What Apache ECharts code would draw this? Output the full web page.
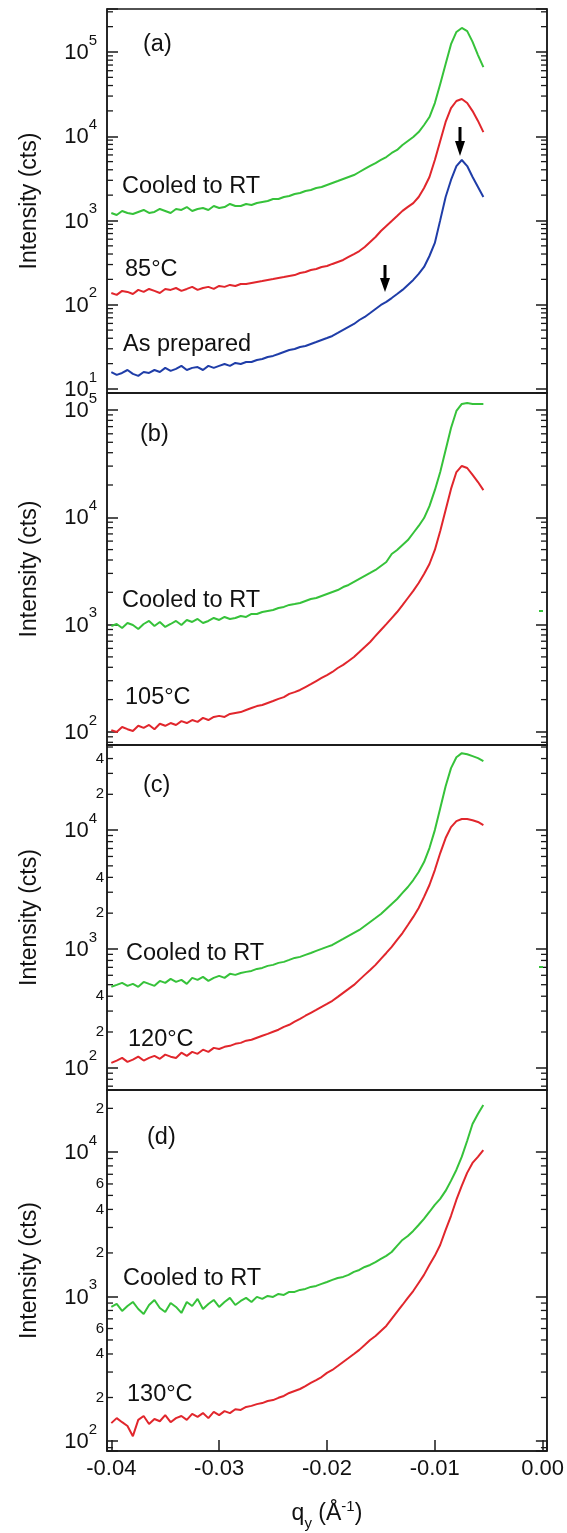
<!DOCTYPE html>
<html><head><meta charset="utf-8">
<script src="https://cdn.jsdelivr.net/npm/echarts@6/dist/echarts.min.js"></script>
<style>html,body{margin:0;padding:0;background:#fff;}#c{width:567px;height:1533px;}</style>
</head><body><div id="c"></div>
<script>
// q_y grid (Å^-1)
const qGrid = [-0.0400,-0.0395,-0.0390,-0.0385,-0.0380,-0.0375,-0.0370,-0.0365,-0.0360,-0.0355,-0.0350,-0.0345,-0.0340,-0.0335,-0.0330,-0.0325,-0.0320,-0.0315,-0.0310,-0.0305,
 -0.0300,-0.0295,-0.0290,-0.0285,-0.0280,-0.0275,-0.0270,-0.0265,-0.0260,-0.0255,-0.0250,-0.0245,-0.0240,-0.0235,-0.0230,-0.0225,-0.0220,-0.0215,-0.0210,-0.0205,
 -0.0200,-0.0195,-0.0190,-0.0185,-0.0180,-0.0175,-0.0170,-0.0165,-0.0160,
 -0.0155,-0.0150,-0.0145,-0.0140,-0.0135,-0.0130,-0.0125,-0.0120,-0.0115,-0.0110,-0.0105,-0.0100,-0.0095,-0.0090,-0.0085,-0.0080,-0.0075,-0.0070,-0.0065,-0.0060,-0.0055];

// Panel (a)
const aCooled = [1228,1162,1297,1228,1194,1262,1333,1228,1262,1370,1297,1228,1370,1333,1446,1297,1370,1406,1333,1486,
 1406,1446,1570,1486,1486,1570,1528,1614,1660,1706,1800,1800,1901,1954,2065,2120,2240,2303,2432,2501,
 2641,2789,2945,3110,3284,3467,3764,4087,4436,
 4810,5230,5670,6330,6870,7880,8790,9790,11200,13600,16900,24800,41700,72000,124000,173000,193000,177000,132000,92000,66000];
const a85 = [138,131,146,142,134,150,142,154,146,138,154,150,158,146,154,163,150,158,163,154,
 167,163,172,167,176,176,181,186,191,197,202,208,213,219,225,238,245,258,266,281,
 288,305,322,340,369,400,434,485,556,
 637,750,861,986,1130,1300,1450,1610,1900,2430,3280,5230,8790,14800,21600,26200,27700,24800,19900,15200,11200];
const aPrepared = [15.9,14.7,15.5,16.8,15.1,14.3,15.9,15.5,16.8,15.9,17.8,16.4,17.3,18.8,16.8,17.8,18.2,16.8,18.8,17.8,
 18.8,19.8,18.8,20.4,19.8,20.9,20.9,22.1,22.7,24.0,24.7,26.0,27.5,29.0,29.8,31.5,32.4,34.2,36.1,38.2,
 40.3,42.6,46.2,50.2,54.5,59.1,65.9,71.6,79.8,
 89.1,99.4,108,120,134,150,172,197,232,281,379,541,1010,1900,3030,4430,5230,4430,3280,2500,1900];
// Panel (b)
const bCooled = [971,1013,930,1035,992,910,1013,1081,971,1058,950,1013,1081,992,1104,1058,1128,1035,1081,1153,
 1104,1178,1128,1153,1203,1178,1256,1256,1311,1340,1369,1429,1461,1525,1557,1591,1661,1733,1771,1848,
 1928,2012,2100,2240,2340,2495,2661,2838,3027,
 3230,3520,3830,4550,4960,5520,6140,7140,8300,9840,12700,17900,26400,42400,67900,98000,114000,116000,114000,114000,114000];
const b105 = [104,99.8,111,106,102,114,109,116,106,119,114,121,116,126,121,129,124,135,129,138,
 141,138,147,150,153,160,167,174,178,186,194,203,211,226,235,246,262,279,298,318,
 339,362,394,421,458,499,555,618,689,
 784,891,1010,1150,1310,1520,1770,2060,2440,2960,3670,4960,7450,11700,18400,26400,30100,28800,24800,21300,17900];
// Panel (c)
const cCooled = [480,498,518,489,508,480,528,508,489,538,518,560,528,549,508,571,549,582,538,571,
 593,571,617,605,628,641,653,679,692,720,734,763,778,808,840,857,891,925,962,1000,
 1040,1080,1145,1213,1286,1363,1445,1561,1687,
 1820,1970,2170,2390,2630,2960,3320,3800,4440,5380,7060,10000,15300,23400,33200,41000,44400,43500,41900,40300,38000];
const c120 = [110,115,121,112,117,124,115,121,126,119,129,124,121,134,126,136,131,142,136,147,
 144,150,153,159,162,169,172,179,186,193,201,209,221,230,244,258,274,290,307,326,
 345,366,395,427,461,498,549,605,666,
 734,825,925,1040,1190,1360,1590,1860,2210,2740,3450,4610,6410,8570,10600,11900,12400,12400,12100,11700,11000];
// Panel (d)
const dCooled = [846,887,794,859,916,819,757,873,946,832,781,902,846,769,916,859,962,819,887,946,
 846,916,977,873,931,977,916,993,962,1008,993,1041,1025,1075,1075,1110,1128,1164,1183,1221,
 1260,1301,1343,1365,1409,1478,1525,1600,1652,
 1730,1820,1910,2030,2240,2460,2620,2840,3120,3440,3840,4300,4730,5370,6300,7500,9230,11900,15600,18300,21100];
const d130 = [133,144,135,127,108,140,149,131,142,137,151,135,144,149,140,154,147,156,144,159,
 151,161,156,166,164,172,175,180,183,189,192,199,205,215,222,229,240,252,264,277,
 296,310,330,352,375,400,427,462,500,
 533,577,625,699,781,873,977,1090,1240,1410,1650,1910,2270,2880,3600,4650,5820,7160,8390,9230,10300];

// axis ranges
const xRange = [-0.0404, 0.0004];
const yRanges = [[8.96, 3.24e5], [75.5, 1.44e5], [65, 5.2e4], [85.3, 2.68e4]];
// labelled minor ticks (value, label)
const cMinorLabels = [[200,'2'],[400,'4'],[2000,'2'],[4000,'4'],[20000,'2'],[40000,'4']];
const dMinorLabels = [[200,'2'],[400,'4'],[600,'6'],[2000,'2'],[4000,'4'],[6000,'6'],[20000,'2']];
const panelLetters = ['(a)','(b)','(c)','(d)'];

const GREEN = '#36c23a', RED = '#e1262c', BLUE = '#1f3da8', AX = '#1a1a1a', TXT = '#111';
const FF = '"Liberation Sans", Arial, sans-serif';

const grids = [{top:9,height:384},{top:393,height:352},{top:745,height:345},{top:1090,height:361}];
const panelSeries = [
  [[aCooled,GREEN],[a85,RED],[aPrepared,BLUE]],
  [[bCooled,GREEN],[b105,RED]],
  [[cCooled,GREEN],[c120,RED]],
  [[dCooled,GREEN],[d130,RED]]
];
const minorLabelSets = [[],[],cMinorLabels,dMinorLabels];

function minorTicks(lo, hi){
  const out = [];
  for (let e = -1; e <= 6; e++) for (let m = 2; m <= 9; m++) {
    const v = m * Math.pow(10, e);
    if (v > lo * 1.001 && v < hi * 0.999) out.push(v);
  }
  return out;
}

const option = {animation:false, backgroundColor:'#fff', grid:[], xAxis:[], yAxis:[], series:[], graphic:[]};
const yLabelFmt = v => { const l = Math.log10(v), n = Math.round(l); return Math.abs(l-n) > 0.01 ? '' : '{b|10}{s|' + n + '}'; };
const yRich = {
  b:{fontSize:22, fontFamily:FF, color:TXT, lineHeight:24, verticalAlign:'bottom'},
  s:{fontSize:15, fontFamily:FF, color:TXT, lineHeight:15, padding:[0,0,16,0], verticalAlign:'bottom'}
};

grids.forEach((g, i) => {
  option.grid.push({left:107, width:440, top:g.top, height:g.height, show:true, borderColor:AX, borderWidth:1.5, backgroundColor:'transparent'});
  const last = i === 3;
  option.xAxis.push({type:'value', gridIndex:i, min:xRange[0], max:xRange[1],
    axisLine:{show:true, onZero:false, lineStyle:{color:AX, width:1.5}},
    axisTick:{show:last, inside:true, length:11, lineStyle:{color:AX, width:1.5}},
    axisLabel:{show:last, margin:7, fontSize:22, fontFamily:FF, color:TXT,
      formatter: v => { const k = Math.round(v*100); return Math.abs(v*100 - k) > 0.01 ? '' : (k/100).toFixed(2); }},
    splitLine:{show:false},
    name: last ? '{n|q}{sub|y}{n| (Å}{sup|-1}{n|)}' : '', nameLocation:'middle', nameGap:54,
    nameTextStyle:{rich:{
      n:{fontSize:23, fontFamily:FF, color:TXT, lineHeight:26, padding:[0,0,6,0], verticalAlign:'bottom'},
      sub:{fontSize:15, fontFamily:FF, color:TXT, lineHeight:15, verticalAlign:'bottom'},
      sup:{fontSize:15, fontFamily:FF, color:TXT, lineHeight:15, padding:[0,0,17,0], verticalAlign:'bottom'}
    }}
  });
  const [ymin, ymax] = yRanges[i];
  option.yAxis.push({type:'log', logBase:10, gridIndex:i, min:ymin, max:ymax, position:'left',
    axisLine:{show:true, onZero:false, lineStyle:{color:AX, width:1.5}},
    axisTick:{show:true, inside:true, length:11, lineStyle:{color:AX, width:1.5}},
    axisLabel:{margin:10, formatter:yLabelFmt, rich:yRich},
    splitLine:{show:false},
    name:'Intensity (cts)', nameLocation:'middle', nameRotate:90, nameGap:66,
    nameTextStyle:{fontSize:23, fontFamily:FF, color:TXT}
  });
  option.yAxis.push({type:'log', logBase:10, gridIndex:i, min:ymin, max:ymax, position:'right',
    axisLine:{show:true, onZero:false, lineStyle:{color:AX, width:1.5}},
    axisTick:{show:true, inside:true, length:11, lineStyle:{color:AX, width:1.5}},
    axisLabel:{show:false}, splitLine:{show:false}
  });
  const yIdx = i*2;
  panelSeries[i].forEach(([vals, col]) => {
    option.series.push({type:'line', xAxisIndex:i, yAxisIndex:yIdx, showSymbol:false, symbol:'none',
      lineStyle:{color:col, width:2}, z:5,
      data: qGrid.map((q, k) => [q, vals[k]])});
  });
  // minor ticks (2..9 x 10^n) on both sides, with labels where the original shows them
  const labs = minorLabelSets[i];
  const mt = minorTicks(ymin, ymax);
  option.series.push({type:'custom', xAxisIndex:i, yAxisIndex:yIdx, z:3, silent:true,
    data: mt.map(v => [xRange[0], v]),
    renderItem: (params, api) => {
      const v = api.value(1);
      const y = api.coord([xRange[0], v])[1];
      const cs = params.coordSys;
      const L = cs.x, R = cs.x + cs.width;
      const ch = [
        {type:'line', shape:{x1:L, y1:y, x2:L+6, y2:y}, style:{stroke:AX, lineWidth:1.3}},
        {type:'line', shape:{x1:R, y1:y, x2:R-6, y2:y}, style:{stroke:AX, lineWidth:1.3}}
      ];
      const hit = labs.find(p => Math.abs(p[0]-v)/v < 1e-6);
      if (hit) ch.push({type:'text', x:L-3, y:y, style:{text:hit[1], fontSize:15, fontFamily:FF, fill:TXT, align:'right', verticalAlign:'middle'}});
      return {type:'group', children:ch};
    }
  });
});

// annotations
const txt = (s, x, y) => ({type:'text', x, y, z:10, style:{text:s, fontSize:23.5, fontFamily:FF, fill:TXT, align:'left', verticalAlign:'middle'}});
option.graphic = [
  txt(panelLetters[0],143,45), txt('Cooled to RT',122,187), txt('85°C',125,270), txt('As prepared',123,345),
  txt(panelLetters[1],140,435), txt('Cooled to RT',122,601), txt('105°C',125,698),
  txt(panelLetters[2],143,786), txt('Cooled to RT',126,954), txt('120°C',128,1040),
  txt(panelLetters[3],147,1138), txt('Cooled to RT',123,1279), txt('130°C',127,1395),
  // arrows
  {type:'line', z:10, shape:{x1:385,y1:265,x2:385,y2:280}, style:{stroke:'#000', lineWidth:3}},
  {type:'polygon', z:10, shape:{points:[[380,278],[390,278],[385,292]]}, style:{fill:'#000'}},
  {type:'line', z:10, shape:{x1:460,y1:127,x2:460,y2:143}, style:{stroke:'#000', lineWidth:3}},
  {type:'polygon', z:10, shape:{points:[[455,141],[465,141],[460,156]]}, style:{fill:'#000'}},
  // small stray marks on the right side of the original
  {type:'line', z:10, shape:{x1:539,y1:611,x2:543,y2:611}, style:{stroke:GREEN, lineWidth:2}},
  {type:'line', z:10, shape:{x1:539,y1:967,x2:543,y2:967}, style:{stroke:GREEN, lineWidth:2}}
];

const chart = echarts.init(document.getElementById('c'), null, {renderer:'canvas'});
chart.setOption(option);
</script></body></html>
